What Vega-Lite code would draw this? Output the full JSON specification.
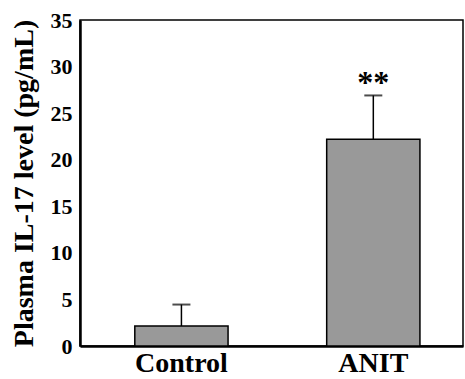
{
  "$schema": "https://vega.github.io/schema/vega-lite/v6.json",
  "autosize": "none",
  "padding": {"left": 80, "top": 20, "right": 2, "bottom": 33},
  "width": 383,
  "height": 326,
  "background": "white",
  "config": {
    "font": "Liberation Serif",
    "view": {"stroke": "black", "strokeWidth": 1.5}
  },
  "data": {
    "values": [
      {"group": "Control", "mean": 2.15, "upper": 4.45, "sig": ""},
      {"group": "ANIT", "mean": 22.2, "upper": 26.9, "sig": "**"}
    ]
  },
  "encoding": {
    "x": {
      "field": "group",
      "type": "nominal",
      "sort": ["Control", "ANIT"],
      "scale": {"paddingInner": 0.514, "paddingOuter": 0.255, "align": 0.56},
      "axis": {
        "title": null,
        "labelAngle": 0,
        "labelFont": "Liberation Serif",
        "labelFontWeight": "bold",
        "labelFontSize": 28,
        "labelColor": "black",
        "labelPadding": 3,
        "labelBaseline": "top",
        "ticks": false,
        "domainColor": "black",
        "domainWidth": 2.5
      }
    }
  },
  "layer": [
    {
      "mark": {"type": "bar", "color": "#999999", "stroke": "black", "strokeWidth": 1.5},
      "encoding": {
        "y": {
          "field": "mean",
          "type": "quantitative",
          "scale": {"domain": [0, 35], "nice": false},
          "axis": {
            "title": "Plasma IL-17 level (pg/mL)",
            "titleFont": "Liberation Serif",
            "titleFontWeight": "bold",
            "titleFontSize": 28,
            "titleColor": "black",
            "titlePadding": 12,
            "values": [0, 5, 10, 15, 20, 25, 30, 35],
            "labelFont": "Liberation Serif",
            "labelFontWeight": "bold",
            "labelFontSize": 22,
            "labelColor": "black",
            "labelPadding": 8,
            "ticks": false,
            "grid": false,
            "domainColor": "black",
            "domainWidth": 2.5
          }
        }
      }
    },
    {
      "mark": {"type": "rule", "color": "black", "strokeWidth": 1.5},
      "encoding": {
        "y": {"field": "mean", "type": "quantitative"},
        "y2": {"field": "upper"}
      }
    },
    {
      "mark": {"type": "tick", "color": "black", "thickness": 2, "size": 18, "orient": "horizontal"},
      "encoding": {
        "y": {"field": "upper", "type": "quantitative"}
      }
    },
    {
      "mark": {"type": "text", "font": "Liberation Serif", "fontWeight": "bold", "fontSize": 32, "baseline": "middle", "dy": -12, "color": "black"},
      "encoding": {
        "y": {"field": "upper", "type": "quantitative"},
        "text": {"field": "sig"}
      }
    }
  ]
}
